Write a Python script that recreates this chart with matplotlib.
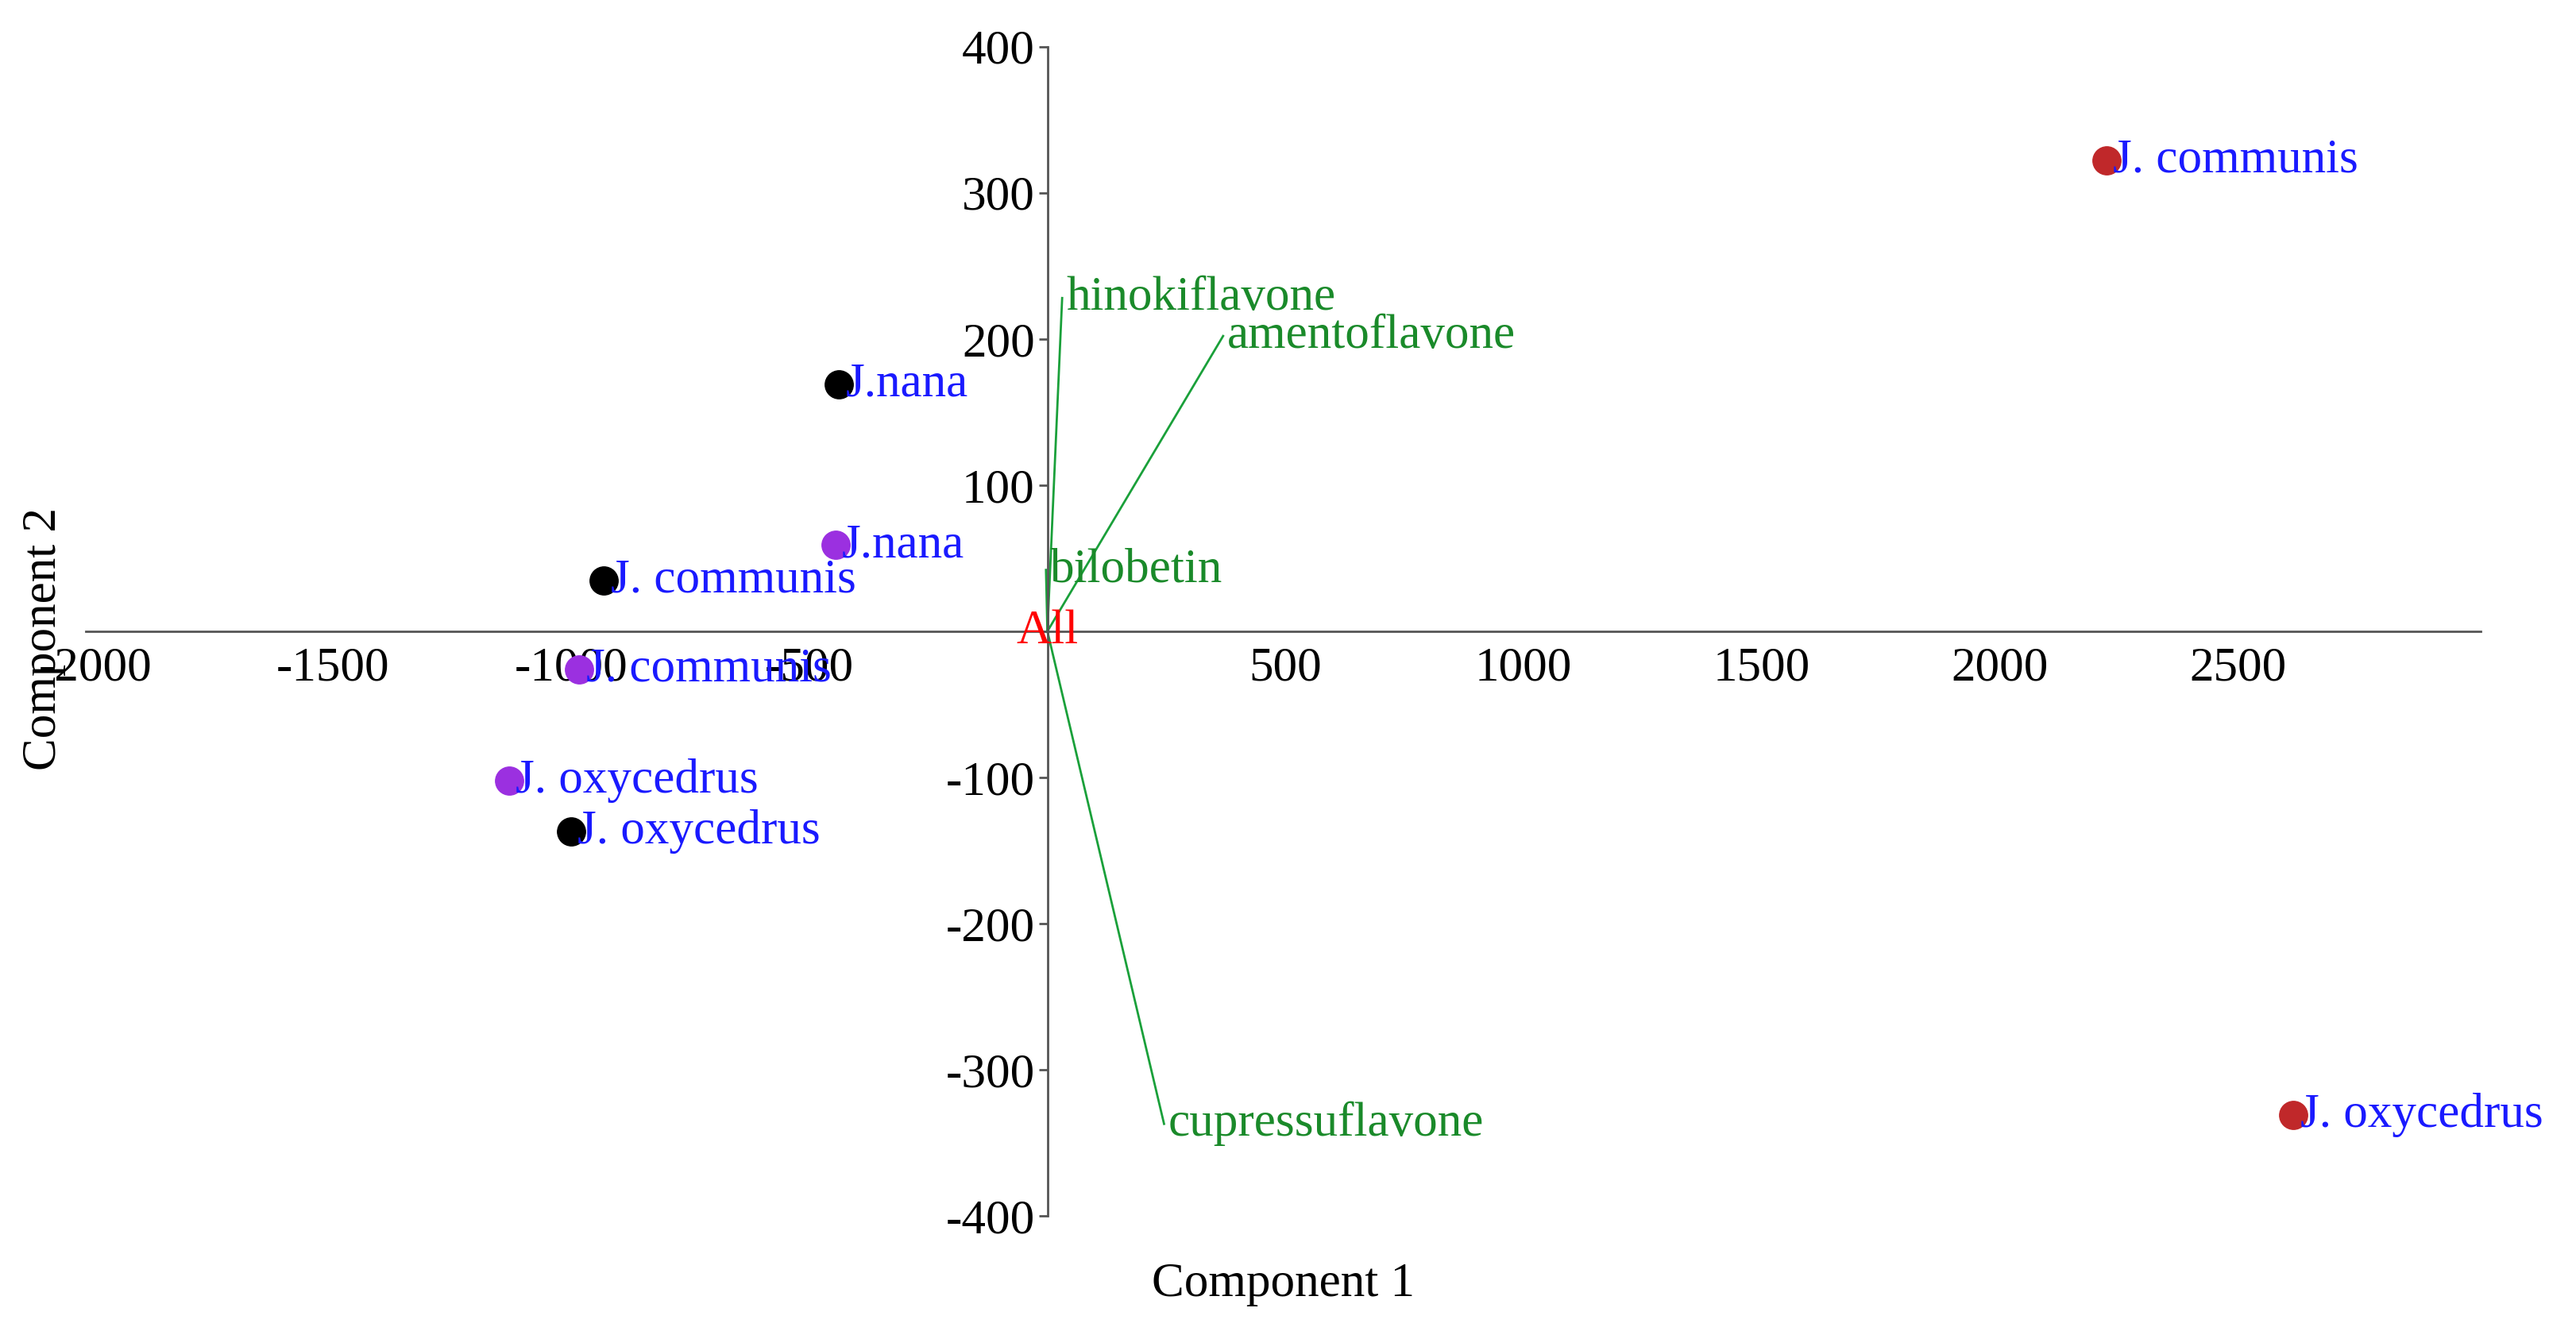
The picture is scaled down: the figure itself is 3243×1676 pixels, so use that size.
import matplotlib
matplotlib.use("Agg")
import matplotlib.pyplot as plt

plt.rcParams['font.family'] = ['Liberation Serif', 'DejaVu Serif']

red_labels = ["J. communis", "J. oxycedrus"]
red_x = [2224, 2617]
red_y = [322, -331]
black_labels = ["J.nana", "J. communis", "J. oxycedrus"]
black_x = [-438, -931, -1000]
black_y = [169, 35, -137]
purple_labels = ["J.nana", "J. communis", "J. oxycedrus"]
purple_x = [-445, -983, -1131]
purple_y = [59, -26, -102]
load_labels = ["hinokiflavone", "amentoflavone", "bilobetin", "cupressuflavone"]
load_x = [31, 369, -3, 245]
load_y = [228, 202, 42, -337]
xticks = [-2000, -1500, -1000, -500, 500, 1000, 1500, 2000, 2500]
yticks = [-400, -300, -200, -100, 100, 200, 300, 400]

fig = plt.figure(figsize=(32.43, 16.76), dpi=100)
ax = fig.add_axes([0.0332, 0.0864, 0.9298, 0.8786])
ax.set_xlim(-2020, 3010)
ax.set_ylim(-400, 400)
for s in ['top', 'right']:
    ax.spines[s].set_visible(False)
ax.spines['left'].set_position(('data', 0))
ax.spines['bottom'].set_position(('data', 0))
for s in ['left', 'bottom']:
    ax.spines[s].set_color('#555555')
    ax.spines[s].set_linewidth(2)
ax.set_xticks(xticks)
ax.set_xticklabels([str(v) for v in xticks])
ax.set_yticks(yticks + [0])
ax.set_yticklabels([str(v) for v in yticks] + [""])
ax.tick_params(axis='both', labelsize=44, length=8, width=2, color='#555555')
ax.tick_params(axis='x', length=0, pad=14)

fs = 44
for xs, ys, labs, c in [(red_x, red_y, red_labels, '#c0282a'),
                        (black_x, black_y, black_labels, 'black'),
                        (purple_x, purple_y, purple_labels, '#9b30e0')]:
    ax.scatter(xs, ys, s=650, color=c, zorder=3)
    for x, y, l in zip(xs, ys, labs):
        ax.annotate(l, (x, y), xytext=(6, 0), textcoords='offset points',
                    color='#1a1aff', fontsize=fs, va='center', ha='left')

for x, y, l in zip(load_x, load_y, load_labels):
    ax.plot([0, x], [0, y], color='#1aa03a', lw=2)
    ax.annotate(l, (x, y), xytext=(4, 0), textcoords='offset points',
                color='#1a8a2a', fontsize=fs, va='center', ha='left')

ax.text(0, 0, "All", color='red', fontsize=fs, ha='center', va='center')
fig.text(0.498, 0.035, "Component 1", fontsize=44, ha='center', va='center')
fig.text(0.017, 0.52, "Component 2", fontsize=44, ha='center', va='center', rotation=90)
fig.savefig("out.png", dpi=100)
